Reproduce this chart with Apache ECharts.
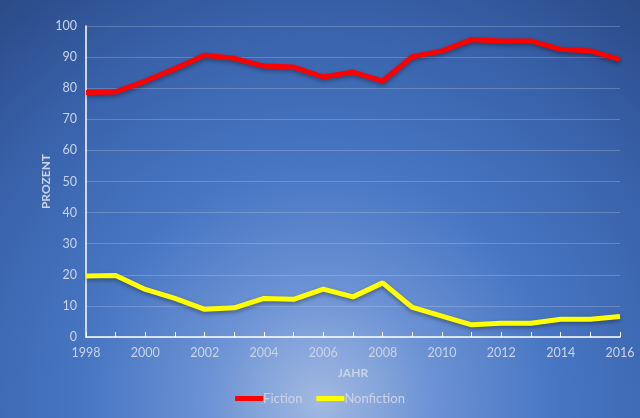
<!DOCTYPE html>
<html>
<head>
<meta charset="utf-8">
<script src="https://cdn.jsdelivr.net/npm/echarts@6/dist/echarts.min.js"></script>
<style>
  html, body { margin: 0; padding: 0; }
  #chart { width: 640px; height: 418px; }
</style>
</head>
<body>
<div id="chart"></div>
<script>
// Anteil Fiction / Nonfiction pro Jahr
var years = ['1998','1999','2000','2001','2002','2003','2004','2005','2006','2007',
             '2008','2009','2010','2011','2012','2013','2014','2015','2016'];
var fiction = [78.6, 78.8, 82.3, 86.3, 90.6, 89.6, 87.1, 86.8, 83.6, 85.2,
               82.3, 90.1, 92.0, 95.6, 95.2, 95.2, 92.5, 92.0, 89.2];
var nonfiction = [19.6, 19.8, 15.3, 12.4, 8.9, 9.4, 12.4, 12.1, 15.4, 12.9,
                  17.4, 9.5, 6.7, 3.9, 4.4, 4.4, 5.7, 5.7, 6.6];
var yTicks = [0, 10, 20, 30, 40, 50, 60, 70, 80, 90, 100];

window.onload = start_chart();
function start_chart() {
    var myChart = echarts.init(document.getElementById('chart'));
    var textColor = '#c9d4e8';
    var fontName = 'Lato';

    var option = {
        backgroundColor: new echarts.graphic.RadialGradient(0.5, 0.96, 1.25, [
            {offset: 0, color: '#a2b9e2'},
            {offset: 0.22, color: '#6b92d4'},
            {offset: 0.45, color: '#4876c3'},
            {offset: 0.75, color: '#3760a8'},
            {offset: 1, color: '#2a4884'}
        ]),
        textStyle: {fontFamily: fontName},
        grid: {left: 86, right: 20, top: 26, bottom: 81},
        legend: {
            bottom: 8,
            left: 'center',
            itemWidth: 28,
            itemHeight: 5,
            itemGap: 14,
            icon: 'rect',
            textStyle: {color: textColor, fontSize: 13, fontFamily: fontName, padding: [0, 0, 0, -5]},
            data: ['Fiction', 'Nonfiction']
        },
        xAxis: {
            type: 'category',
            data: years,
            boundaryGap: false,
            name: 'JAHR',
            nameLocation: 'middle',
            nameGap: 30,
            nameMoveOverlap: false,
            nameTextStyle: {color: textColor, fontWeight: 'bold', fontSize: 12},
            axisLine: {lineStyle: {color: '#ffffff', width: 1.5}},
            axisTick: {show: true, inside: true, length: 5, interval: 0, lineStyle: {color: '#ffffff'}},
            axisLabel: {
                color: textColor, fontSize: 12.5, margin: 9,
                interval: function (i) { return i % 2 === 0; }
            },
            splitLine: {show: false}
        },
        yAxis: {
            type: 'value',
            min: yTicks[0],
            max: yTicks[yTicks.length - 1],
            interval: 10,
            name: 'PROZENT',
            nameLocation: 'middle',
            nameRotate: 90,
            nameGap: 34,
            nameMoveOverlap: false,
            nameTextStyle: {color: textColor, fontWeight: 'bold', fontSize: 12},
            axisLine: {show: true, lineStyle: {color: '#ffffff', width: 1.5}},
            axisTick: {show: false},
            axisLabel: {color: textColor, fontSize: 12.5, margin: 9},
            splitLine: {lineStyle: {color: 'rgba(200,215,240,0.28)', width: 1}}
        },
        series: [{
            name: 'Fiction',
            type: 'line',
            data: fiction,
            symbol: 'none',
            lineStyle: {
                color: '#ff0000', width: 5,
                shadowColor: 'rgba(0,0,0,0.35)', shadowBlur: 4, shadowOffsetY: 2
            },
            itemStyle: {color: '#ff0000'}
        }, {
            name: 'Nonfiction',
            type: 'line',
            data: nonfiction,
            symbol: 'none',
            lineStyle: {
                color: '#ffff00', width: 5,
                shadowColor: 'rgba(0,0,0,0.35)', shadowBlur: 4, shadowOffsetY: 2
            },
            itemStyle: {color: '#ffff00'}
        }]
    };

    myChart.setOption(option);
}
</script>
</body>
</html>
